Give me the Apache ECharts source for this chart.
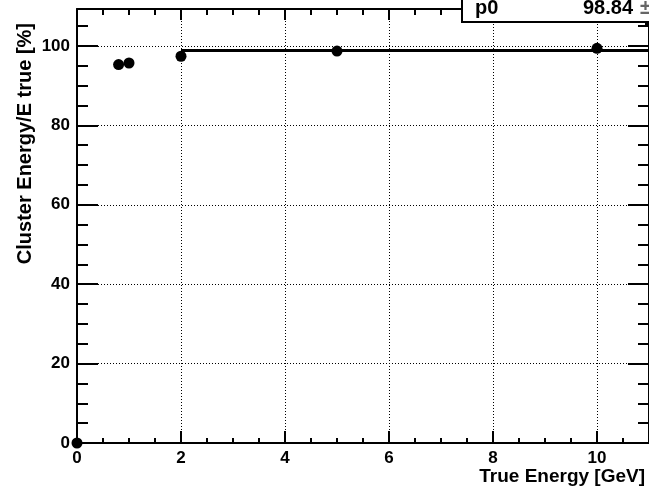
<!DOCTYPE html>
<html>
<head>
<meta charset="utf-8">
<script src="https://cdn.jsdelivr.net/npm/echarts@6/dist/echarts.min.js"></script>
<style>
  html, body { margin: 0; padding: 0; background: #fff; }
  #main { width: 649px; height: 490px; }
</style>
</head>
<body>
<div id="main"></div>
<script>
// Measured response: reconstructed cluster energy over true energy
const trueEnergy = [0, 0.8, 1, 2, 5, 10];          // GeV
const energyRatio = [0, 95.3, 95.7, 97.4, 98.7, 99.4]; // %

// Constant fit (pol0) over the plateau
const fitP0 = 98.84;
const fitRange = [2, 11];

// Axis ranges and tick spacing
const xRange = [0, 11];
const yRange = [0, 109.3];
const xMajor = 2, xMinor = 0.5;
const yMajor = 20, yMinor = 5;

const FONT = '"Liberation Sans", Arial, Helvetica, sans-serif';
const BLACK = '#000';

const chart = echarts.init(document.getElementById('main'), null, { renderer: 'canvas' });

function xAxisDef(position, interval, tickLen, showLine, showLabel, showGrid) {
  return {
    type: 'value', position, min: xRange[0], max: xRange[1], interval,
    axisLine: { show: showLine, onZero: false, lineStyle: { color: BLACK, width: 2 } },
    axisTick: { show: true, inside: true, length: tickLen, lineStyle: { color: BLACK, width: 2 } },
    axisLabel: {
      show: showLabel, showMaxLabel: false, margin: 7,
      color: BLACK, fontSize: 17, fontWeight: 'bold', fontFamily: FONT
    },
    splitLine: { show: showGrid, lineStyle: { color: BLACK, width: 1, type: [1, 2] } },
    minorTick: { show: false }
  };
}

function yAxisDef(position, interval, tickLen, showLine, showLabel, showGrid) {
  return {
    type: 'value', position, min: yRange[0], max: yRange[1], interval,
    axisLine: { show: showLine, onZero: false, lineStyle: { color: BLACK, width: 2 } },
    axisTick: { show: true, inside: true, length: tickLen, lineStyle: { color: BLACK, width: 2 } },
    axisLabel: {
      show: showLabel, showMaxLabel: false, margin: 7,
      color: BLACK, fontSize: 17, fontWeight: 'bold', fontFamily: FONT
    },
    splitLine: { show: showGrid, lineStyle: { color: BLACK, width: 1, type: [1, 2] } },
    minorTick: { show: false }
  };
}

const option = {
  backgroundColor: '#fff',
  animation: false,
  grid: { left: 77, top: 9, width: 578, height: 434, containLabel: false },
  xAxis: [
    xAxisDef('bottom', xMajor, 12, true, true, true),
    xAxisDef('bottom', xMinor, 5, false, false, false),
    xAxisDef('top', xMajor, 11, true, false, false),
    xAxisDef('top', xMinor, 6, false, false, false)
  ],
  yAxis: [
    yAxisDef('left', yMajor, 21, true, true, true),
    yAxisDef('left', yMinor, 11, false, false, false),
    yAxisDef('right', yMajor, 21, true, false, false),
    yAxisDef('right', yMinor, 11, false, false, false)
  ],
  series: [
    {
      name: 'pol0 fit',
      type: 'line',
      xAxisIndex: 0, yAxisIndex: 0,
      data: fitRange.map(x => [x, fitP0]),
      symbol: 'none',
      lineStyle: { color: BLACK, width: 3 },
      clip: false,
      z: 3
    },
    {
      name: 'response',
      type: 'scatter',
      xAxisIndex: 0, yAxisIndex: 0,
      data: trueEnergy.map((e, i) => [e, energyRatio[i]]),
      symbol: 'circle',
      symbolSize: 11,
      itemStyle: { color: BLACK, opacity: 1 },
      clip: false,
      z: 4
    }
  ],
  graphic: [
    // axis titles
    {
      type: 'text', x: 645, y: 477, z: 10,
      style: {
        text: 'True Energy [GeV]', align: 'right', verticalAlign: 'middle',
        fill: BLACK, font: 'bold 19px ' + FONT
      }
    },
    {
      type: 'text', x: 25, y: 23, rotation: Math.PI / 2, z: 10,
      style: {
        text: 'Cluster Energy/E true [%]', align: 'right', verticalAlign: 'middle',
        fill: BLACK, font: 'bold 20px ' + FONT
      }
    },
    // fit statistics box
    {
      type: 'rect', z: 20,
      shape: { x: 462, y: -20, width: 220, height: 42 },
      style: { fill: '#fff', stroke: BLACK, lineWidth: 2 }
    },
    {
      type: 'rect', z: 19,
      shape: { x: 645, y: 20, width: 10, height: 5 },
      style: { fill: BLACK }
    },
    {
      type: 'text', x: 475, y: 8, z: 21,
      style: { text: 'p0', align: 'left', verticalAlign: 'middle', fill: BLACK, font: 'bold 20px ' + FONT }
    },
    {
      type: 'text', x: 633, y: 8, z: 21,
      style: { text: fitP0.toFixed(2), align: 'right', verticalAlign: 'middle', fill: BLACK, font: 'bold 20px ' + FONT }
    },
    {
      type: 'text', x: 640, y: 8, z: 21,
      style: { text: '±', align: 'left', verticalAlign: 'middle', fill: '#666', font: 'bold 20px ' + FONT }
    }
  ]
};

chart.setOption(option);
</script>
</body>
</html>
